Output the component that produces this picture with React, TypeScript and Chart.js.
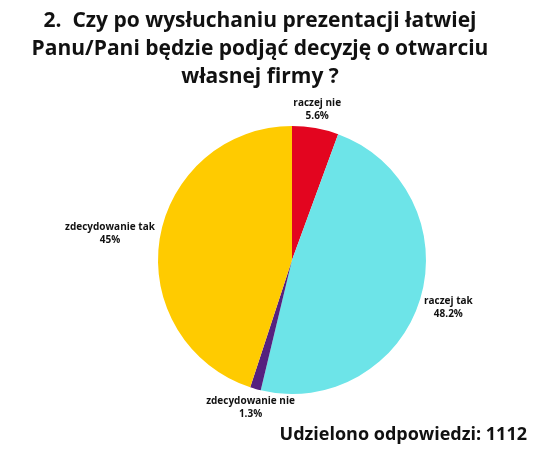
import React, { useEffect, useRef } from 'react';
import Chart from 'chart.js/auto';

// === Data ===
const CATEGORIES = ['raczej nie', 'raczej tak', 'zdecydowanie nie', 'zdecydowanie tak'];
const VALUES = [5.6, 48.2, 1.3, 45];
const COLORS = ['#E3051F', '#6DE4E8', '#55217F', '#FFCB00'];
const TITLE_LINES = ['2.  Czy po wysłuchaniu prezentacji łatwiej', 'Panu/Pani będzie podjąć decyzję o otwarciu', 'własnej firmy ?'];
const FOOTER = 'Udzielono odpowiedzi: 1112';

const FONT = '"Open Sans", "DejaVu Sans", sans-serif';

// === Outside labels, placed from each arc's own geometry ===
const outsideLabels = {
  id: 'outsideLabels',
  afterDatasetsDraw(chart: any) {
    const { ctx } = chart;
    const meta = chart.getDatasetMeta(0);
    ctx.save();
    ctx.font = `700 10px ${FONT}`;
    ctx.fillStyle = '#111';
    ctx.textAlign = 'center';
    ctx.textBaseline = 'middle';
    meta.data.forEach((arc: any, i: number) => {
      const { x, y, startAngle, endAngle, outerRadius } = arc.getProps(
        ['x', 'y', 'startAngle', 'endAngle', 'outerRadius'], true
      );
      const mid = (startAngle + endAngle) / 2;
      const dx = Math.cos(mid);
      const dy = Math.sin(mid);
      const l1 = CATEGORIES[i];
      const l2 = `${VALUES[i]}%`;
      const hw = Math.max(ctx.measureText(l1).width, ctx.measureText(l2).width) / 2;
      const hh = 13;
      const r = outerRadius + 6;
      // labels near the top/bottom stay centred over the slice, side labels push outwards
      const cx = x + dx * r + Math.sign(dx) * dx * dx * hw;
      const cy = y + dy * r + Math.sign(dy) * Math.sqrt(Math.abs(dy)) * hh + 0.5;
      ctx.fillText(l1, cx, cy - 6.5);
      ctx.fillText(l2, cx, cy + 6.5);
    });
    ctx.restore();
  },
};

export default function App() {
  const canvasRef = useRef<HTMLCanvasElement>(null);

  useEffect(() => {
    document.body.style.margin = '0';
    if (!canvasRef.current) return;
    const chart = new Chart(canvasRef.current, {
      type: 'pie',
      data: {
        labels: CATEGORIES,
        datasets: [{
          data: VALUES,
          backgroundColor: COLORS,
          borderWidth: 0,
        }],
      },
      options: {
        animation: false,
        responsive: false,
        layout: { padding: { top: 126, bottom: 59, left: 158, right: 114 } },
        plugins: {
          legend: { display: false },
          tooltip: { enabled: false },
        },
      },
      plugins: [outsideLabels],
    });
    return () => chart.destroy();
  }, []);

  return (
    <div style={{ position: 'relative', width: 540, height: 453, background: '#fff', overflow: 'hidden' }}>
      <canvas ref={canvasRef} width={540} height={453} style={{ position: 'absolute', left: 0, top: 0 }} />
      <div
        style={{
          position: 'absolute', left: 0, top: 5, width: 520, textAlign: 'center', whiteSpace: 'pre',
          fontFamily: FONT, fontWeight: 700, fontSize: 21, lineHeight: '28px', color: '#111',
        }}
      >
        {TITLE_LINES.map((t, i) => <div key={i}>{t}</div>)}
      </div>
      <div
        style={{
          position: 'absolute', right: 13, top: 421, fontFamily: FONT, fontWeight: 700,
          fontSize: 18, lineHeight: '24px', color: '#111', whiteSpace: 'nowrap',
        }}
      >
        {FOOTER}
      </div>
    </div>
  );
}
